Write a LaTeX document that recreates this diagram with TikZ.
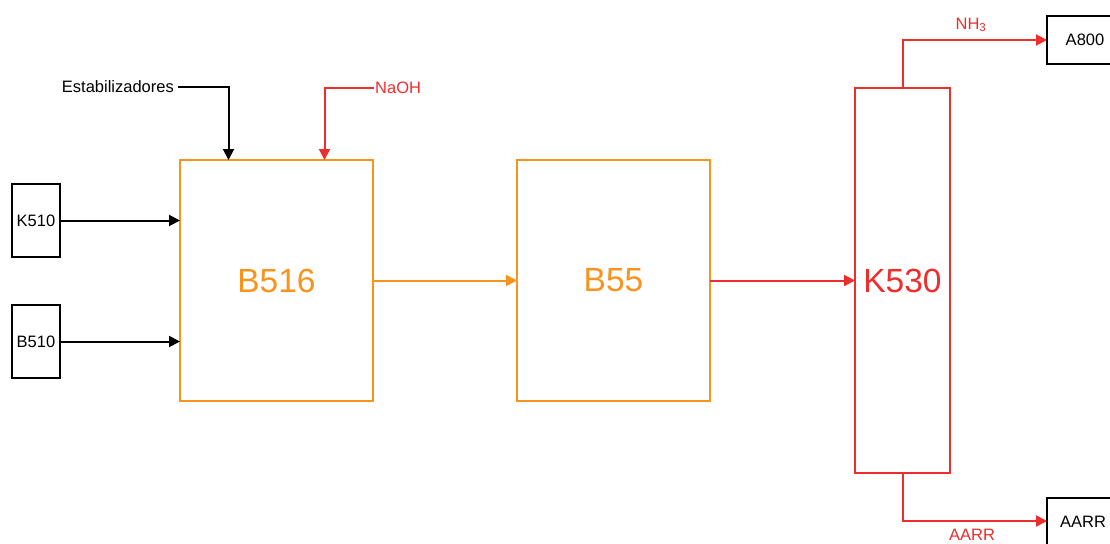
\documentclass[tikz,border=0pt]{standalone}
\usepackage{fontspec}
\setmainfont{Liberation Sans}
\usetikzlibrary{arrows.meta}
\definecolor{org}{HTML}{F7941D}
\definecolor{rd}{HTML}{EE2D2D}
\begin{document}
\begin{tikzpicture}[x=1pt,y=-1pt,
  box/.style={draw,line width=1.8pt,minimum width=48pt,minimum height=73pt,inner sep=0pt,outer sep=0pt,font=\fontsize{16.5}{19}\selectfont},
  bigbox/.style={draw,line width=1.8pt,inner sep=0pt,outer sep=0pt,font=\fontsize{33.5}{38}\selectfont},
  arr/.style={line width=2pt,-{Triangle[length=11pt,width=11pt]}},
  lbl/.style={font=\fontsize{16.5}{19}\selectfont,inner sep=1pt}]
\clip (0,0) rectangle (1110,543);
\fill[white] (0,0) rectangle (1110,543);
% boxes
\node[box,anchor=north west] (k510) at (12,184) {K510};
\node[box,anchor=north west] (b510) at (12,305) {B510};
\node[bigbox,draw=org,text=org,minimum width=193pt,minimum height=241pt,anchor=north west] (b516) at (180,160) {B516};
\node[bigbox,draw=org,text=org,minimum width=193pt,minimum height=241pt,anchor=north west] (b55) at (517,160) {B55};
\node[bigbox,draw=rd,text=rd,minimum width=95pt,minimum height=385pt,anchor=north west] (k530) at (855,88) {K530};
\node[box,anchor=north west,minimum width=76pt,minimum height=48pt] (a800) at (1047,16) {A800};
\node[box,anchor=north west,minimum width=72pt,minimum height=48pt] (aarr) at (1047,498) {AARR};
% labels
\node[lbl,anchor=east] (estab) at (175,87) {Estabilizadores};
\node[lbl,anchor=west,text=rd] (naoh) at (374,88) {NaOH};
\node[lbl,text=rd] (nh3) at (971,25) {NH\textsubscript{3}};
\node[lbl,text=rd] (aarrl) at (972,535) {AARR};
% connectors
\draw[arr] (k510.east) -- (k510.east -| b516.west);
\draw[arr] (b510.east) -- (b510.east -| b516.west);
\draw[arr] ([xshift=3pt]estab.east) -| ([xshift=-48pt]b516.north);
\draw[arr,color=rd] (naoh.west) -| ([xshift=48pt]b516.north);
\draw[arr,color=org] (b516.east) -- (b55.west);
\draw[arr,color=rd] (b55.east) -- (b55.east -| k530.west);
\coordinate (t1) at ([yshift=48pt]k530.north);
\coordinate (t2) at ([yshift=-48pt]k530.south);
\draw[arr,color=rd] (k530.north) -- (t1) -- (t1 -| a800.west);
\draw[arr,color=rd] (k530.south) -- (t2) -- (t2 -| aarr.west);
\end{tikzpicture}
\end{document}
